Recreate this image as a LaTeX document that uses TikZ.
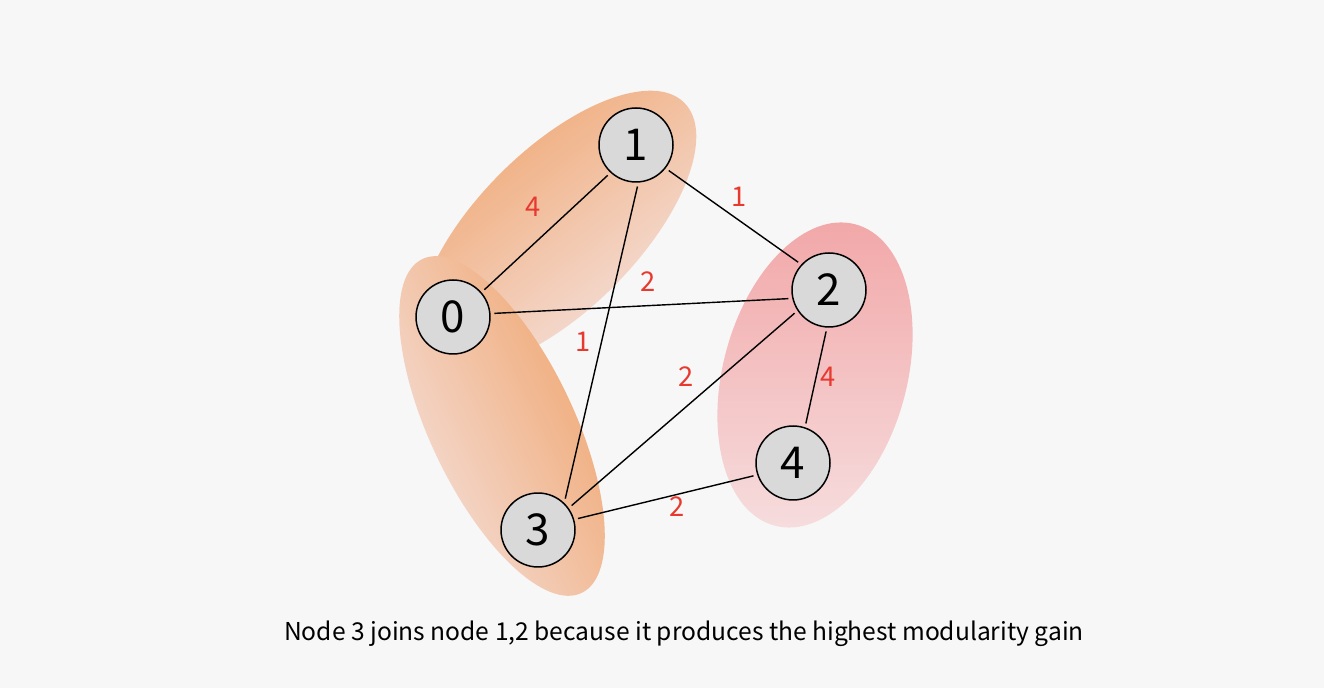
\documentclass[tikz,border=0pt]{standalone}
\usepackage{fontspec}
\setmainfont{Noto Sans CJK SC}
\usepackage{tikz}
\usetikzlibrary{shapes.geometric}
\definecolor{BgGray}{HTML}{F7F7F7}
\definecolor{GroupOrange}{HTML}{F0A36A}
\definecolor{GroupPale}{HTML}{F4E2DF}
\definecolor{GroupPink}{HTML}{F2A6A7}
\definecolor{GroupPinkPale}{HTML}{F6DCDD}
\definecolor{NodeGray}{HTML}{D9D9D9}
\definecolor{WeightRed}{HTML}{E8392F}
\tikzset{
  % Group styles
  groupblob/.style={ellipse, inner sep=0pt, draw=none},
  orangeblob/.style={groupblob, top color=GroupOrange, middle color=GroupOrange!88!GroupPale, bottom color=GroupPale},
  % Node styles
  vertex/.style={circle, draw=black, line width=0.85pt, fill=NodeGray, minimum size=1.48cm, inner sep=0pt, outer sep=2.6pt, font=\fontsize{25}{25}\selectfont},
  weight/.style={font=\fontsize{15.5}{15.5}\selectfont, text=WeightRed},
  % Edge styles
  edge/.style={line width=0.8pt, black}
}

\begin{document}
\begin{tikzpicture}[x=0.02cm, y=0.02cm]
  \fill[BgGray] (0,0) rectangle (1324,688);
  \useasboundingbox (0,0) rectangle (1324,688);

  % Communities
  \node[groupblob, rotate=75, minimum width=6.24cm, minimum height=3.68cm, top color=GroupPink, bottom color=GroupPinkPale] (grpC) at (815,313) {};
  \node[orangeblob, rotate=45, minimum width=7.2cm, minimum height=3.2cm, shading angle=38] (grpA) at (557,458) {};
  \node[orangeblob, rotate=-64.5, minimum width=7.4cm, minimum height=2.88cm, shading angle=-64.5] (grpB) at (502,262) {};

  % Vertices
  \node[vertex] (n0) at (453,371) {0};
  \node[vertex] (n1) at (636,543) {1};
  \node[vertex] (n2) at (829,398) {2};
  \node[vertex] (n3) at (538,158) {3};
  \node[vertex] (n4) at (793,225) {4};

  % Edges
  \draw[edge] (n0.41) -- (n1.227);
  \draw[edge] (n1.-38) -- (n2.138);
  \draw[edge] (n0.5) -- (n2.192);
  \draw[edge] (n1.-88) -- (n3.49);
  \draw[edge] (n2.214) -- (n3.36);
  \draw[edge] (n2.-94) -- (n4.72);
  \draw[edge] (n3.16) -- (n4.198);

  % Weights
  \node[weight] (w01) at (533,481) {4};
  \node[weight] (w12) at (739,491) {1};
  \node[weight] (w02) at (648,406) {2};
  \node[weight] (w13) at (583,346) {1};
  \node[weight] (w23) at (686,311) {2};
  \node[weight] (w24) at (828,311) {4};
  \node[weight] (w34) at (677,181) {2};

  % Caption
  \node[font=\fontsize{14}{14}\selectfont] (caption) at (684,54) {Node 3 joins node 1,2 because it produces the highest modularity gain};
\end{tikzpicture}
\end{document}
